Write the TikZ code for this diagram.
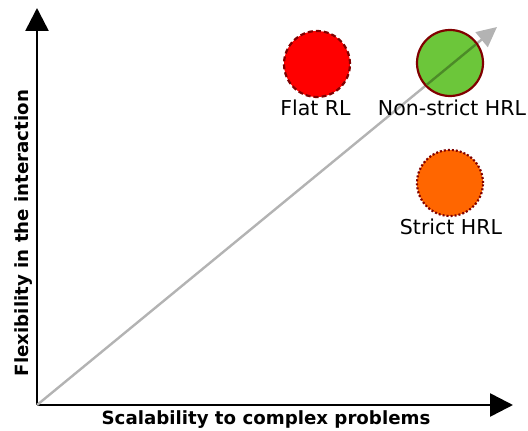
\documentclass[tikz,border=0pt]{standalone}
\usepackage{fontspec}
\setmainfont{DejaVu Sans}
\usetikzlibrary{arrows.meta}

\definecolor{flatred}{HTML}{FF0000}
\definecolor{hrlgreen}{HTML}{6CC63A}
\definecolor{hrlorange}{HTML}{FF6600}
\definecolor{rimred}{HTML}{800000}
\definecolor{trendgray}{HTML}{B3B3B3}
\definecolor{trendshade}{HTML}{4C8B28}

\tikzset{
  axis/.style={line width=2.6pt, -{Triangle[length=23pt,width=23pt]}},
  trend/.style={trendgray, line width=2.4pt, -{Triangle[length=20pt,width=19pt]}},
  method/.style={circle, minimum size=66pt, inner sep=0pt, draw=rimred, line width=2.2pt},
  methodlabel/.style={font=\fontsize{20.5}{24}\selectfont},
  axislabel/.style={font=\bfseries\fontsize{18.2}{22}\selectfont}
}

\begin{document}
\begin{tikzpicture}[x=1pt,y=1pt]
\useasboundingbox (0,0) rectangle (528,431);

% axes
\coordinate (origin) at (37,26);
\coordinate (ytip) at (37,423);
\coordinate (xtip) at (513,26);
\coordinate (trendtip) at (497,404);

\draw[axis] (origin) -- (ytip);
\draw[axis] (origin) -- (xtip);

\node[axislabel] (xlabel) at (266,11) {Scalability to complex problems};
\node[axislabel, rotate=90] (ylabel) at (24,198) {Flexibility in the interaction};

% trend
\draw[trend] (origin) -- (trendtip);

% methods
\node[method, fill=flatred, dash pattern=on 5pt off 3pt] (flat) at (317,367) {};
\node[method, fill=hrlgreen] (nonstrict) at (450,368) {};
\node[method, fill=hrlorange, dash pattern=on 2pt off 2pt] (strict) at (450,248) {};

% trend seen through the green disc
\begin{scope}
  \clip (nonstrict.center) circle (32pt);
  \draw[trendshade, line width=2.4pt] (origin) -- (trendtip);
\end{scope}

\node[methodlabel] (flatlabel) at (315.5,323) {Flat RL};
\node[methodlabel] (nonstrictlabel) at (452,323) {Non-strict HRL};
\node[methodlabel] (strictlabel) at (451,204) {Strict HRL};

\end{tikzpicture}
\end{document}
